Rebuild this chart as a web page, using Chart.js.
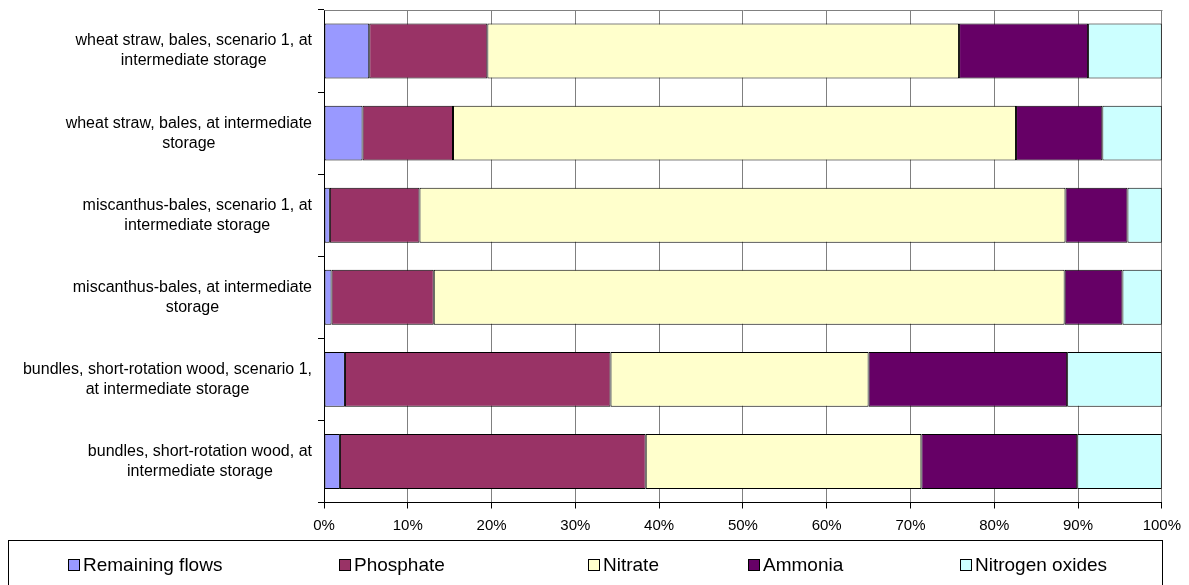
<!DOCTYPE html>
<html>
<head>
<meta charset="utf-8">
<script src="https://cdn.jsdelivr.net/npm/chart.js@4/dist/chart.umd.min.js"></script>
<style>
  html, body { margin: 0; padding: 0; background: #fff; }
  #wrap { width: 1189px; height: 585px; position: relative; }
</style>
</head>
<body>
<div id="wrap"><canvas id="c" width="1189" height="585"></canvas></div>
<script>
// Share of each emission flow per supply chain (percent of total)
const categories = [
  ["wheat straw, bales, scenario 1, at", "intermediate storage"],
  ["wheat straw, bales, at intermediate", "storage"],
  ["miscanthus-bales, scenario 1, at", "intermediate storage"],
  ["miscanthus-bales, at intermediate", "storage"],
  ["bundles, short-rotation wood, scenario 1,", "at intermediate storage"],
  ["bundles, short-rotation wood, at", "intermediate storage"]
];
const remainingFlows = [5.4, 4.6, 0.7, 0.9, 2.5, 1.9];
const phosphate      = [14.1, 10.8, 10.7, 12.2, 31.7, 36.5];
const nitrate        = [56.3, 67.2, 77.1, 75.3, 30.8, 32.9];
const ammonia        = [15.4, 10.3, 7.4, 6.9, 23.7, 18.6];
const nitrogenOxides = [8.8, 7.1, 4.1, 4.7, 11.3, 10.1];
const xTicks = [0, 10, 20, 30, 40, 50, 60, 70, 80, 90, 100];

const seriesNames = ["Remaining flows", "Phosphate", "Nitrate", "Ammonia", "Nitrogen oxides"];
const seriesColors = ["#9999FF", "#993366", "#FFFFCC", "#660066", "#CCFFFF"];
const seriesValues = [remainingFlows, phosphate, nitrate, ammonia, nitrogenOxides];

const FONT = "'Liberation Sans', Arial, sans-serif";

// Category labels: block right-aligned to the axis, lines centred within the block
const categoryLabels = {
  id: 'categoryLabels',
  afterDraw(chart) {
    const ctx = chart.ctx;
    const y = chart.scales.y;
    ctx.save();
    ctx.font = "16px " + FONT;
    ctx.fillStyle = "#000";
    ctx.textAlign = "center";
    ctx.textBaseline = "middle";
    const lineH = 20;
    const rightEdge = 312;
    categories.forEach((lines, i) => {
      const cy = y.getPixelForValue(i);
      const w = Math.max(...lines.map(l => ctx.measureText(l).width));
      const cx = rightEdge - w / 2;
      const y0 = cy - (lines.length - 1) * lineH / 2;
      lines.forEach((l, k) => ctx.fillText(l, cx, y0 + k * lineH));
    });
    ctx.restore();
  }
};

// Plot frame (top edge) and boxed legend along the bottom
const frameAndLegend = {
  id: 'frameAndLegend',
  afterDraw(chart) {
    const ctx = chart.ctx;
    const a = chart.chartArea;
    ctx.save();
    ctx.strokeStyle = "#808080";
    ctx.lineWidth = 1;
    ctx.beginPath();
    ctx.moveTo(Math.round(a.left) + 0.5, Math.round(a.top) + 0.5);
    ctx.lineTo(Math.round(a.right) + 0.5, Math.round(a.top) + 0.5);
    ctx.stroke();

    // legend box
    ctx.strokeStyle = "#000";
    ctx.strokeRect(8.5, 540.5, Math.round(a.right) - 8, 80);

    const markerX = [68, 339, 588, 748, 960];
    const ly = 565;
    ctx.font = "19px " + FONT;
    ctx.textAlign = "left";
    ctx.textBaseline = "middle";
    seriesNames.forEach((name, i) => {
      const mx = markerX[i];
      ctx.fillStyle = seriesColors[i];
      ctx.fillRect(mx + 0.5, ly - 5.5, 11, 11);
      ctx.strokeStyle = "#000";
      ctx.strokeRect(mx + 0.5, ly - 5.5, 11, 11);
      ctx.fillStyle = "#000";
      ctx.fillText(name, mx + 15, ly + 1);
    });
    ctx.restore();
  }
};

new Chart(document.getElementById('c'), {
  type: 'bar',
  data: {
    labels: categories,
    datasets: seriesNames.map((name, i) => ({
      label: name,
      data: seriesValues[i],
      backgroundColor: seriesColors[i],
      borderColor: "#000",
      borderWidth: 1,
      borderSkipped: false,
      barPercentage: 0.67,
      categoryPercentage: 1.0
    }))
  },
  options: {
    indexAxis: 'y',
    responsive: false,
    animation: false,
    events: [],
    layout: { padding: { left: 0, top: 10, right: 26, bottom: 0 } },
    plugins: {
      legend: { display: false },
      tooltip: { enabled: false }
    },
    scales: {
      x: {
        stacked: true,
        min: 0,
        max: 100,
        afterBuildTicks(scale) { scale.ticks = xTicks.map(v => ({ value: v })); },
        afterFit(scale) { scale.height = 82.5; },
        ticks: {
          callback: v => v + "%",
          color: "#000",
          font: { family: FONT, size: 15 },
          padding: 8,
          maxRotation: 0
        },
        grid: {
          color: "#808080",
          lineWidth: 1,
          drawTicks: true,
          tickLength: 6,
          tickColor: "#000"
        },
        border: { color: "#000", width: 1 }
      },
      y: {
        stacked: true,
        afterFit(scale) { scale.width = 324; },
        ticks: { display: false },
        grid: {
          drawOnChartArea: false,
          drawTicks: true,
          tickLength: 6,
          tickColor: "#000",
          offset: true
        },
        border: { color: "#000", width: 1 }
      }
    }
  },
  plugins: [categoryLabels, frameAndLegend]
});
</script>
</body>
</html>
